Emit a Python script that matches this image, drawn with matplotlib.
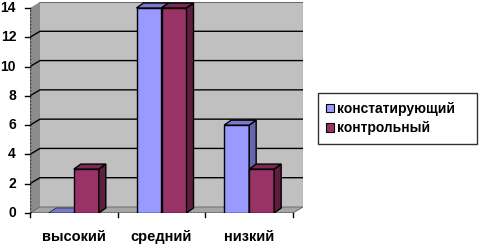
import matplotlib
matplotlib.use("Agg")
import matplotlib.pyplot as plt
from matplotlib.patches import Polygon, Patch
import numpy as np

# данные
categories = ["высокий", "средний", "низкий"]
series_names = ["констатирующий", "контрольный"]
konst = [0, 14, 6]
kontr = [3, 14, 3]
yticks = [0, 2, 4, 6, 8, 10, 12, 14]

plt.rcParams['font.family'] = ['Liberation Sans', 'DejaVu Sans']

front = ["#9999FF", "#993366"]
side = ["#6666B0", "#5E1E40"]
top = ["#7A7ACC", "#7A2A52"]

fig = plt.figure(figsize=(4.81, 2.45), dpi=100)
W, H = 481, 245
# передняя ось: x 30..293 px, y 213 (0) .. 8 (14)
px_cat = (293 - 30) / 3.0
px_val = (213 - 8) / 14.0
dx = 10 / px_cat          # глубина стенок
dy = 6 / px_val
bdx = 7 / px_cat          # глубина столбиков
bdy = 5 / px_val
ymax = 14 + dy
ax = fig.add_axes([30 / W, (H - 213) / H, (293 + 10 - 30) / W, ymax * px_val / H])
ax.set_xlim(-0.5, 2.5 + dx)
ax.set_ylim(0, ymax)
ax.axis("off")

n = len(categories)
# задняя стенка, левая стенка, пол
ax.add_patch(Polygon([(-0.5 + dx, dy), (n - 0.5 + dx, dy), (n - 0.5 + dx, 14 + dy), (-0.5 + dx, 14 + dy)],
                     closed=True, fc="#C0C0C0", ec="none", zorder=1))
ax.add_patch(Polygon([(-0.5, 0), (-0.5 + dx, dy), (-0.5 + dx, 14 + dy), (-0.5, 14)],
                     closed=True, fc="#8C8C8C", ec="none", zorder=1))
ax.add_patch(Polygon([(-0.5, 0), (n - 0.5, 0), (n - 0.5 + dx, dy), (-0.5 + dx, dy)],
                     closed=True, fc="#A6A6A6", ec="#606060", lw=0.6, zorder=1))
ax.plot([-0.5 + dx, n - 0.5 + dx], [14 + dy, 14 + dy], color="#555555", lw=1.2, zorder=2)
ax.plot([n - 0.5 + dx, n - 0.5 + dx], [dy, 14 + dy], color="#808080", lw=1, ls=(0, (1.5, 1.5)), zorder=2)

# линии сетки
for v in yticks[1:-1]:
    ax.plot([-0.5, -0.5 + dx, n - 0.5 + dx], [v, v + dy, v + dy], color="black", lw=1, zorder=2)

# оси
ax.plot([-0.5, -0.5], [0, 14], color="#404040", lw=1, ls=(0, (1.5, 1)), zorder=3)
ax.plot([-0.5, n - 0.5], [0, 0], color="black", lw=1, ls=(0, (1.5, 1)), zorder=3)
for v in yticks:
    ax.plot([-0.5 - 5 / px_cat, -0.5], [v, v], color="black", lw=1, zorder=3, clip_on=False)
    ax.text(-0.5 - 14 / px_cat, v, str(v), ha="right", va="center", fontsize=10,
            fontweight="bold", clip_on=False)
for k in range(n + 1):
    ax.plot([k - 0.5, k - 0.5], [0, -4 / px_val], color="black", lw=1, zorder=3, clip_on=False)
x = np.arange(n)
for i, c in enumerate(categories):
    ax.text(x[i], -24 / px_val, c, ha="center", va="center", fontsize=10.5,
            fontweight="bold", clip_on=False)

# столбики
w = 25 / px_cat
for s, vals in enumerate([konst, kontr]):
    lefts = x - w + s * w
    ax.bar(lefts, vals, width=w, align="edge", color=front[s], edgecolor="black", lw=1, zorder=5)
    for xl, v in zip(lefts, vals):
        xr = xl + w
        ax.add_patch(Polygon([(xr, 0), (xr + bdx, bdy), (xr + bdx, v + bdy), (xr, v)],
                             closed=True, fc=side[s], ec="black", lw=1, zorder=5))
        ax.add_patch(Polygon([(xl, v), (xr, v), (xr + bdx, v + bdy), (xl + bdx, v + bdy)],
                             closed=True, fc=top[s], ec="black", lw=1 if v > 0 else 0.4, zorder=5))

# легенда
handles = [Patch(fc=front[i], ec="black", lw=0.8) for i in range(2)]
leg = fig.legend(handles, series_names, loc="center",
                 bbox_to_anchor=(318 / W, 1 - 142 / H, (477 - 318) / W, (142 - 95) / H),
                 mode="expand", prop={"weight": "bold", "size": 10},
                 handlelength=0.55, handleheight=0.55, handletextpad=0.25,
                 borderpad=0.6, labelspacing=0.4, frameon=True, fancybox=False,
                 borderaxespad=0)
leg.get_frame().set_edgecolor("black")
leg.get_frame().set_linewidth(1)

fig.savefig("out.png", dpi=100)
